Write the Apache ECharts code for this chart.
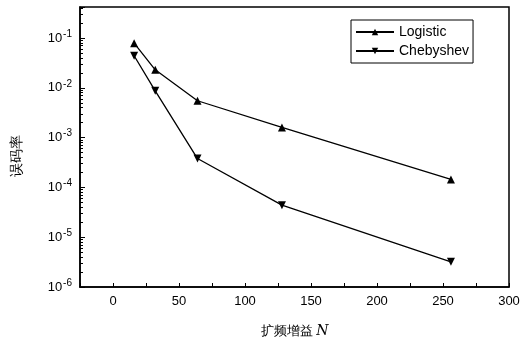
<!DOCTYPE html>
<html>
<head>
<meta charset="utf-8">
<script src="https://cdn.jsdelivr.net/npm/echarts@6/dist/echarts.min.js"></script>
<style>
  html, body { margin: 0; padding: 0; background: #fff; }
  #chart { width: 523px; height: 339px; }
</style>
</head>
<body>
<div id="chart"></div>
<script>
  // spreading gain N
  const gainN = [16, 32, 64, 128, 256];
  const logisticBer = [0.079, 0.023, 0.0055, 0.0016, 0.000145];
  const chebyshevBer = [0.044, 0.0087, 0.00038, 0.000044, 0.0000032];
  const xTicks = [0, 50, 100, 150, 200, 250, 300];

  const chart = echarts.init(document.getElementById('chart'));
  const font = 'Liberation Sans, Arial, sans-serif';

  const toPairs = (ys) => gainN.map((x, i) => [x, ys[i]]);

  const option = {
    backgroundColor: '#fff',
    animation: false,
    grid: {
      left: 80, right: 14, top: 7, bottom: 52,
      outerBoundsMode: 'none',
      show: true, borderColor: '#000', borderWidth: 1.5
    },
    // y axis title, placed a bit below the plot's middle like the original
    graphic: [{
      type: 'text',
      x: 17, y: 156,
      rotation: Math.PI / 2,
      style: {
        text: '误码率',
        fontFamily: font, fontSize: 14, fill: '#000',
        align: 'center', verticalAlign: 'middle'
      }
    }],
    legend: {
      left: 351, top: 20, orient: 'vertical',
      padding: [5, 4, 5, 4],
      itemGap: 5,
      itemWidth: 38, itemHeight: 8,
      borderColor: '#000', borderWidth: 1,
      textStyle: { color: '#000', fontFamily: font, fontSize: 14 },
      data: ['Logistic', 'Chebyshev']
    },
    xAxis: {
      type: 'value',
      min: -25, max: 300, interval: 25,
      name: '扩频增益 {i|N}',
      nameLocation: 'middle',
      nameGap: 37,
      nameTextStyle: {
        fontFamily: font, fontSize: 13, color: '#000',
        rich: { i: { fontStyle: 'italic', fontFamily: 'DejaVu Serif, serif', fontSize: 14 } }
      },
      axisLine: { onZero: false, lineStyle: { color: '#000', width: 1.5 } },
      axisTick: { inside: true, length: 4, lineStyle: { color: '#000' } },
      splitLine: { show: false },
      axisLabel: {
        color: '#000', fontFamily: font, fontSize: 13, margin: 8,
        formatter: (v) => xTicks.includes(v) ? String(v) : ''
      }
    },
    yAxis: {
      type: 'log', logBase: 10,
      min: 1e-6, max: 0.42,
      axisLine: { onZero: false, lineStyle: { color: '#000', width: 1.5 } },
      axisTick: { inside: true, length: 5, lineStyle: { color: '#000' } },
      minorTick: { show: true, splitNumber: 9, length: 3, lineStyle: { color: '#000' } },
      splitLine: { show: false },
      axisLabel: {
        color: '#000', fontFamily: font, fontSize: 13, margin: 8,
        showMaxLabel: false,
        formatter: (v) => {
          const e = Math.round(Math.log10(v));
          if (Math.abs(Math.log10(v) - e) > 0.01) return '';
          return '10{s|' + e + '}';
        },
        rich: { s: { fontSize: 10, verticalAlign: 'top', padding: [0, 0, 8, 1], color: '#000', fontFamily: font } }
      }
    },
    series: [
      {
        name: 'Logistic', type: 'line',
        data: toPairs(logisticBer),
        symbol: 'triangle', symbolSize: 8,
        lineStyle: { color: '#000', width: 1.3 },
        itemStyle: { color: '#000' }
      },
      {
        name: 'Chebyshev', type: 'line',
        data: toPairs(chebyshevBer),
        symbol: 'triangle', symbolRotate: 180, symbolSize: 8,
        lineStyle: { color: '#000', width: 1.3 },
        itemStyle: { color: '#000' }
      }
    ]
  };

  chart.setOption(option);
</script>
</body>
</html>
